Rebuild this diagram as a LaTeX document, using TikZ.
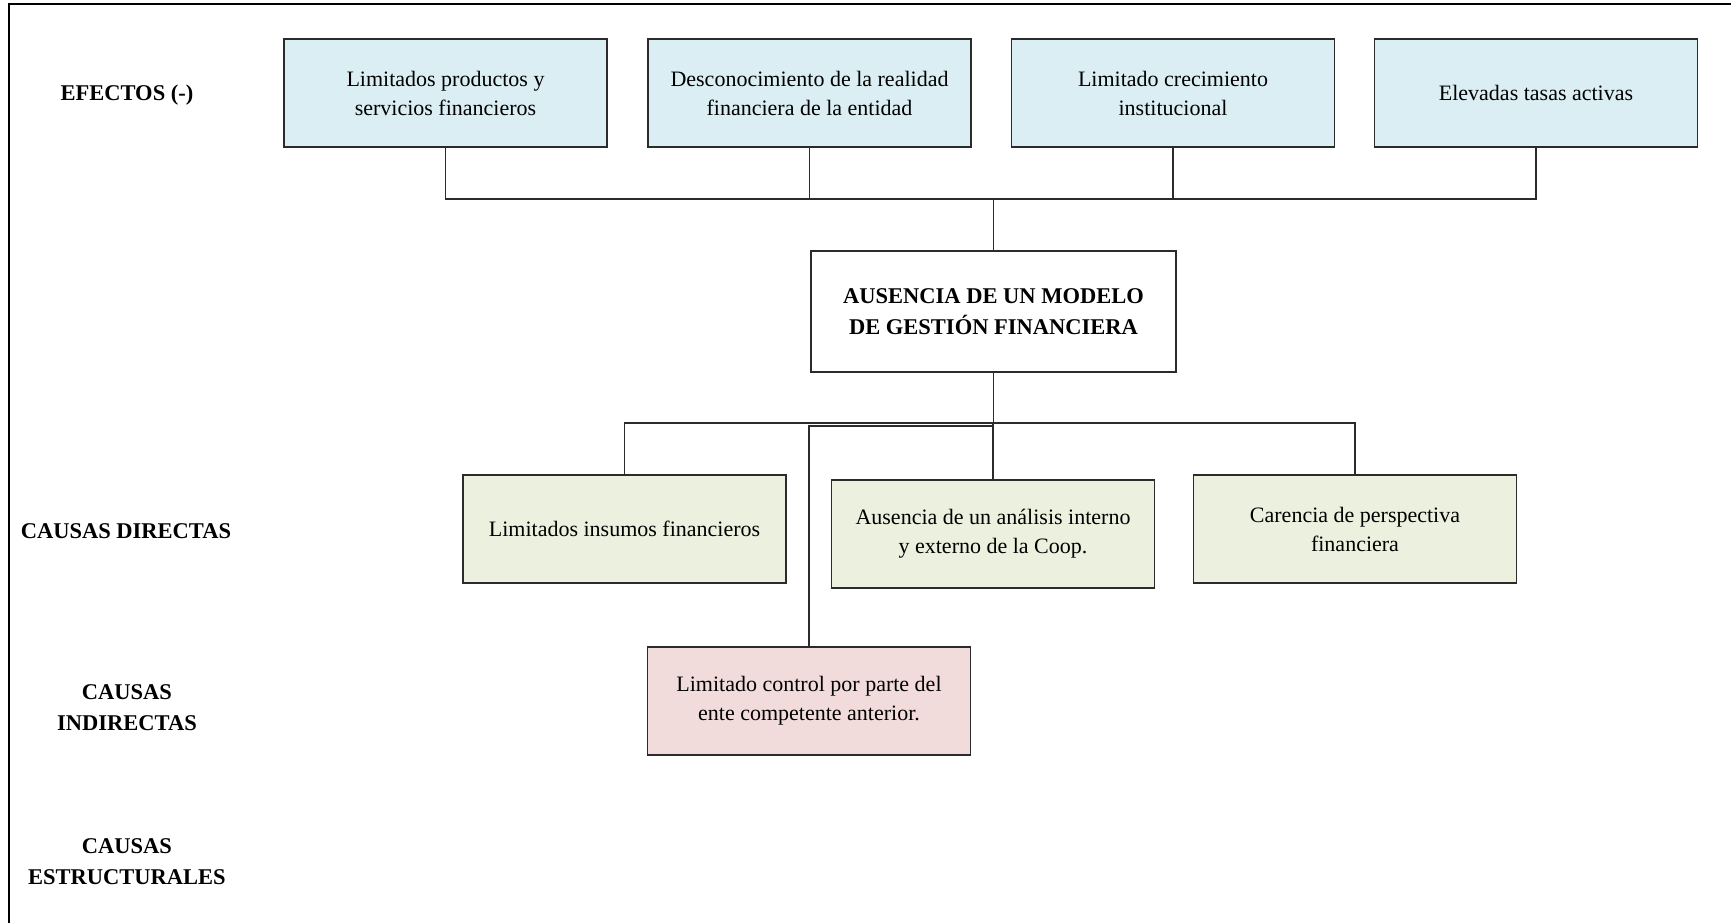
\documentclass[tikz,border=0pt]{standalone}
\usepackage{fontspec}
\setmainfont{Liberation Serif}
\newfontfamily\condfont[FakeStretch=1.0]{Liberation Serif}
\definecolor{effblue}{HTML}{DAEEF3}
\definecolor{causegreen}{HTML}{EBF1DE}
\definecolor{causepink}{HTML}{F2DCDB}
\definecolor{edge}{HTML}{2B2B2B}
\tikzset{
  box/.style={draw=edge, line width=1.6pt, minimum width=323pt, minimum height=108pt,
    align=center, inner sep=4pt, font=\condfont\fontsize{22}{29}\selectfont},
  effbox/.style={box, fill=effblue},
  dirbox/.style={box, fill=causegreen},
  indbox/.style={box, fill=causepink},
  mainbox/.style={draw=edge, line width=1.6pt, fill=white, minimum width=365pt, minimum height=121pt,
    align=center, font=\condfont\bfseries\fontsize{22.5}{31}\selectfont},
  rowlabel/.style={align=center, font=\condfont\bfseries\fontsize{22.5}{31}\selectfont},
  conn/.style={draw=edge, line width=1.5pt},
}
\begin{document}
\begin{tikzpicture}[x=1pt,y=-1pt]
\useasboundingbox (0,0) rectangle (1731,923);
\fill[white] (0,0) rectangle (1731,923);
\draw[line width=2.5pt, draw=black] (9,923) -- (9,4) -- (1731,4);

% row labels
\node[rowlabel] (lef) at (127,95) {EFECTOS (-)};
\node[rowlabel] (ldir) at (126,531) {CAUSAS DIRECTAS};
\node[rowlabel] (lind) at (127,708) {CAUSAS\\INDIRECTAS};
\node[rowlabel] (lest) at (127,862) {CAUSAS\\ESTRUCTURALES};

% effects
\node[effbox] (e1) at (445.5,93) {Limitados productos y\\servicios financieros};
\node[effbox] (e2) at (809.5,93) {Desconocimiento de la realidad\\financiera de la entidad};
\node[effbox] (e3) at (1173,93) {Limitado crecimiento\\institucional};
\node[effbox] (e4) at (1536,93) {Elevadas tasas activas};

% central problem
\node[mainbox] (c) at (993.5,311.5) {AUSENCIA DE UN MODELO\\DE GESTIÓN FINANCIERA};

% direct causes
\node[dirbox] (d1) at (624.5,529) {Limitados insumos financieros};
\node[dirbox] (d2) at (993,534) {Ausencia de un análisis interno\\y externo de la Coop.};
\node[dirbox] (d3) at (1355,529) {Carencia de perspectiva\\financiera};

% indirect cause
\node[indbox] (i1) at (809,701) {Limitado control por parte del\\ente competente anterior.};

% connectors top
\coordinate (bt) at (993.5,199);
\draw[conn] (e1.south) |- (bt);
\draw[conn] (e4.south) |- (bt);
\draw[conn] (e2.south) -- (e2.south |- bt);
\draw[conn] (e3.south) -- (e3.south |- bt);
\draw[conn] (bt) -- (c.north);

% connectors bottom
\coordinate (bb) at (993.5,423);
\coordinate (bi) at (993.5,426);
\draw[conn] (c.south) -- (bb);
\draw[conn] (d1.north) |- (bb);
\draw[conn] (d3.north) |- (bb);
\draw[conn] (bb) -- (bb -| d2.north) -- (d2.north);
\draw[conn] (bi) -| (i1.north);
\end{tikzpicture}
\end{document}
